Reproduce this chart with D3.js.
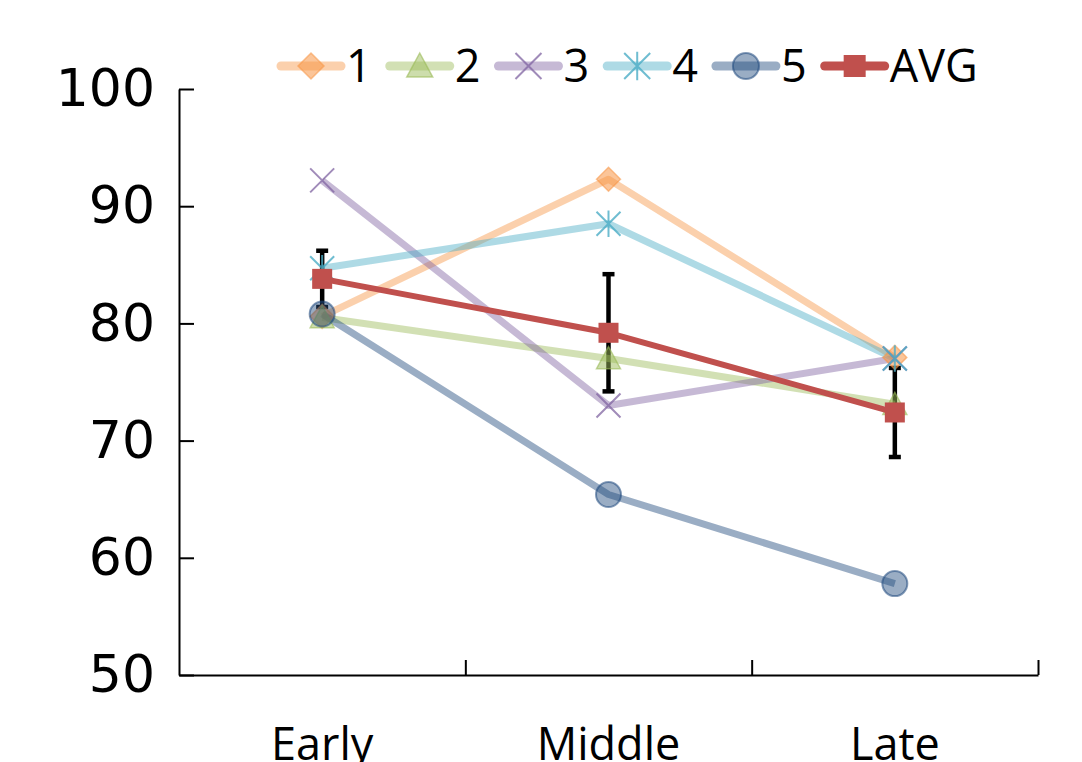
<!DOCTYPE html>
<html>
<head>
<meta charset="utf-8">
<script src="https://cdn.jsdelivr.net/npm/d3@7"></script>
<style>
  html, body { margin: 0; padding: 0; background: #fff; }
  svg { display: block; }
</style>
</head>
<body>
<svg id="chart" width="1082" height="762"></svg>
<script>
// Phases on the x axis
const categories = ["Early", "Middle", "Late"];

// Individual series (scores per phase)
const series1 = [80.6, 92.3, 77.1];
const series2 = [80.5, 77.0, 73.1];
const series3 = [92.2, 73.0, 77.0];
const series4 = [84.7, 88.5, 77.0];
const series5 = [80.8, 65.4, 57.8];

// Average and its error margin
const avgValues = [83.8, 79.2, 72.4];
const avgErrors = [2.4, 5.0, 3.8];

// Axis ticks and legend names
const yTicks = [50, 60, 70, 80, 90, 100];
const seriesNames = ["1", "2", "3", "4", "5", "AVG"];

const seriesList = [
  { name: seriesNames[0], values: series1, color: "#F79646", marker: "diamond" },
  { name: seriesNames[1], values: series2, color: "#9BBB59", marker: "triangle" },
  { name: seriesNames[2], values: series3, color: "#8064A2", marker: "cross" },
  { name: seriesNames[3], values: series4, color: "#4BACC6", marker: "asterisk" },
  { name: seriesNames[4], values: series5, color: "#1F497D", marker: "circle" }
];
const avgColor = "#C0504D";

const svg = d3.select("#chart");
const plotLeft = 179, plotRight = 1038, plotTop = 89, plotBottom = 675;

const x = d3.scaleBand().domain(categories).range([plotLeft, plotRight]).padding(0);
const cx = c => x(c) + x.bandwidth() / 2;
const y = d3.scaleLinear().domain([50, 100]).range([plotBottom, plotTop]);

// ---- axes ----
const yAxis = d3.axisLeft(y)
  .tickValues(yTicks)
  .tickSizeInner(-15)
  .tickSizeOuter(0)
  .tickPadding(24)
  .tickFormat(d3.format("d"));
const gy = svg.append("g").attr("transform", `translate(${plotLeft},0)`).call(yAxis);
gy.selectAll("path, line").attr("stroke", "#000").attr("stroke-width", 2);
gy.selectAll("text")
  .attr("font-family", "'DejaVu Sans', sans-serif")
  .attr("font-size", 52)
  .attr("fill", "#000");

// x axis: tick marks on the category boundaries
const xb = d3.scaleLinear().domain([0, categories.length]).range([plotLeft, plotRight]);
const xAxis = d3.axisBottom(xb)
  .tickValues(d3.range(1, categories.length + 1))
  .tickSizeInner(-15)
  .tickSizeOuter(0)
  .tickFormat("");
const gx = svg.append("g").attr("transform", `translate(0,${plotBottom})`).call(xAxis);
gx.selectAll("path, line").attr("stroke", "#000").attr("stroke-width", 2);

// category labels
svg.append("g").selectAll("text")
  .data(categories)
  .join("text")
  .attr("x", d => cx(d))
  .attr("y", 760)
  .attr("text-anchor", "middle")
  .attr("font-family", "'Open Sans', sans-serif")
  .attr("font-size", 45)
  .attr("fill", "#000")
  .text(d => d);

// ---- marker drawing ----
function drawMarker(g, type, color, size) {
  const h = size / 2;
  if (type === "diamond") {
    g.append("path")
      .attr("d", `M0,${-h} L${h},0 L0,${h} L${-h},0 Z`)
      .attr("fill", color).attr("fill-opacity", 0.55)
      .attr("stroke", color).attr("stroke-opacity", 0.55).attr("stroke-width", 1.5);
  } else if (type === "triangle") {
    g.append("path")
      .attr("d", `M0,${-h} L${h},${h * 0.85} L${-h},${h * 0.85} Z`)
      .attr("fill", color).attr("fill-opacity", 0.5)
      .attr("stroke", color).attr("stroke-opacity", 0.6).attr("stroke-width", 1.5);
  } else if (type === "cross") {
    g.append("path")
      .attr("d", `M${-h},${-h} L${h},${h} M${-h},${h} L${h},${-h}`)
      .attr("fill", "none")
      .attr("stroke", color).attr("stroke-opacity", 0.75).attr("stroke-width", 2);
  } else if (type === "asterisk") {
    g.append("path")
      .attr("d", `M${-h},${-h} L${h},${h} M${-h},${h} L${h},${-h} M0,${-h * 1.1} L0,${h * 1.1}`)
      .attr("fill", "none")
      .attr("stroke", color).attr("stroke-opacity", 0.8).attr("stroke-width", 2);
  } else if (type === "circle") {
    g.append("circle")
      .attr("r", h)
      .attr("fill", color).attr("fill-opacity", 0.45)
      .attr("stroke", color).attr("stroke-opacity", 0.55).attr("stroke-width", 2);
  } else if (type === "square") {
    g.append("rect")
      .attr("x", -h).attr("y", -h).attr("width", size).attr("height", size)
      .attr("fill", color);
  }
}

const line = d3.line().x((d, i) => cx(categories[i])).y(d => y(d));

// ---- error bars on the average ----
const eb = svg.append("g");
avgValues.forEach((v, i) => {
  const px = cx(categories[i]);
  const y1 = y(v + avgErrors[i]), y2 = y(v - avgErrors[i]);
  eb.append("line").attr("x1", px).attr("x2", px).attr("y1", y1).attr("y2", y2)
    .attr("stroke", "#000").attr("stroke-width", 4.5);
  [y1, y2].forEach(yy => {
    eb.append("line").attr("x1", px - 6).attr("x2", px + 6).attr("y1", yy).attr("y2", yy)
      .attr("stroke", "#000").attr("stroke-width", 4.5);
  });
});

// ---- individual series ----
seriesList.forEach(s => {
  svg.append("path")
    .datum(s.values)
    .attr("d", line)
    .attr("fill", "none")
    .attr("stroke", s.color)
    .attr("stroke-opacity", 0.45)
    .attr("stroke-width", 7)
    .attr("stroke-linejoin", "round");
});
seriesList.forEach(s => {
  s.values.forEach((v, i) => {
    const g = svg.append("g").attr("transform", `translate(${cx(categories[i])},${y(v)})`);
    drawMarker(g, s.marker, s.color, s.marker === "circle" ? 25 : 24);
  });
});

// ---- average line ----
svg.append("path")
  .datum(avgValues)
  .attr("d", line)
  .attr("fill", "none")
  .attr("stroke", avgColor)
  .attr("stroke-width", 6)
  .attr("stroke-linejoin", "round");
avgValues.forEach((v, i) => {
  const g = svg.append("g").attr("transform", `translate(${cx(categories[i])},${y(v)})`);
  drawMarker(g, "square", avgColor, 20);
});

// ---- legend ----
const legendItems = seriesList.map(s => ({ name: s.name, color: s.color, marker: s.marker, opacity: 0.45 }))
  .concat([{ name: seriesNames[5], color: avgColor, marker: "square", opacity: 1 }]);
const legend = svg.append("g");
let lx = 281;
const ly = 66;
legendItems.forEach(it => {
  const g = legend.append("g").attr("transform", `translate(${lx},${ly})`);
  g.append("line").attr("x1", 0).attr("x2", 60).attr("y1", 0).attr("y2", 0)
    .attr("stroke", it.color).attr("stroke-opacity", it.opacity)
    .attr("stroke-width", 9).attr("stroke-linecap", "round");
  const mg = g.append("g").attr("transform", "translate(30,0)");
  drawMarker(mg, it.marker, it.color, it.marker === "square" ? 22 : 26);
  const t = g.append("text")
    .attr("x", 65).attr("y", 0)
    .attr("dy", "0.35em")
    .attr("font-family", "'Open Sans', sans-serif")
    .attr("font-size", 45)
    .attr("fill", "#000")
    .text(it.name);
  lx += 65 + t.node().getComputedTextLength() + 18;
});
</script>
</body>
</html>
